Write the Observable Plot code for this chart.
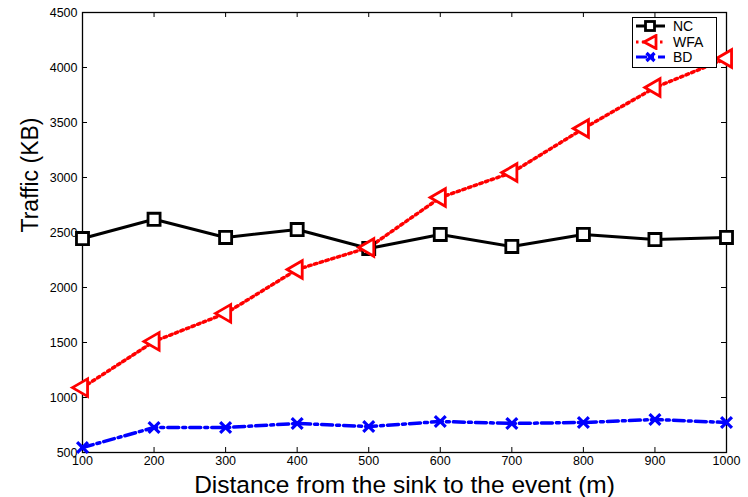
<!DOCTYPE html>
<html><head><meta charset="utf-8">
<script src="https://cdn.jsdelivr.net/npm/d3@7"></script>
<script src="https://cdn.jsdelivr.net/npm/@observablehq/plot@0.6"></script>
<style>
body{margin:0;background:#fff;font-family:"Liberation Sans",Arial,sans-serif;}
#wrap{position:relative;width:748px;height:497px;}
#legend{position:absolute;left:632px;top:17px;width:83px;height:49px;border:1px solid #000;background:#fff;font-size:14px;}
#legend div{height:15.5px;line-height:15.5px;position:relative;}
#legend svg{position:absolute;left:2px;top:0;}
#legend span{position:absolute;left:40px;top:1px;}
</style></head>
<body><div id="wrap"></div>
<script>
const distances = [100,200,300,400,500,600,700,800,900,1000];
const nc  = [2445,2620,2455,2527,2355,2482,2373,2482,2436,2455];
const wfa = [1090,1510,1765,2164,2364,2818,3045,3445,3818,4082];
const bd  = [545,727,727,764,736,782,764,773,800,773];
const xTicks = [100,200,300,400,500,600,700,800,900,1000];
const yTicks = [500,1000,1500,2000,2500,3000,3500,4000,4500];
const seriesNames = ["NC","WFA","BD"];

const rows = (vals) => distances.map((d,i)=>({x:d,y:vals[i]}));
const NC = rows(nc), WFA = rows(wfa), BD = rows(bd);

const W = 748, H = 497, mL = 82, mR = 22, mT = 12, mB = 45;
const fw = W - mL - mR, fh = H - mT - mB, tk = 5;

const chart = Plot.plot({
  width:W, height:H,
  marginLeft:mL, marginRight:mR, marginTop:mT, marginBottom:mB,
  style:{fontFamily:"Liberation Sans, Arial, sans-serif", fontSize:"12.5px", color:"#000", background:"#fff"},
  x:{domain:[100,1000]},
  y:{domain:[500,4500]},
  marks:[
    Plot.frame({stroke:"#000", strokeWidth:1.3}),
    Plot.axisX({ticks:xTicks, tickSize:0, tickPadding:4, label:null, fontSize:12.5, tickFormat:d3.format("d")}),
    Plot.axisY({ticks:yTicks, tickSize:0, tickPadding:5, label:null, fontSize:12.5, tickFormat:d3.format("d")}),
    Plot.tickX(xTicks,{x:d=>d, insetTop:fh-tk, stroke:"#000"}),
    Plot.tickX(xTicks,{x:d=>d, insetBottom:fh-tk, stroke:"#000"}),
    Plot.tickY(yTicks,{y:d=>d, insetRight:fw-tk, stroke:"#000"}),
    Plot.tickY(yTicks,{y:d=>d, insetLeft:fw-tk, stroke:"#000"}),
    Plot.line(NC,{x:"x",y:"y",stroke:"#000",strokeWidth:3}),
    Plot.line(WFA,{x:"x",y:"y",stroke:"#ff0000",strokeWidth:3.5,strokeDasharray:"2.5,3.5"}),
    Plot.line(BD,{x:"x",y:"y",stroke:"#0000ff",strokeWidth:3.5,strokeDasharray:"11,4,3,4"}),
    Plot.dot(NC,{x:"x",y:"y",symbol:"square",r:6.8,stroke:"#000",strokeWidth:2.8,fill:"#fff"}),
    Plot.dot(WFA,{x:"x",y:"y",symbol:"triangle",rotate:-90,r:6.5,stroke:"#ff0000",strokeWidth:2.8,fill:"#fff"}),
    Plot.dot(BD,{x:"x",y:"y",symbol:"times",r:5,stroke:"#0000ff",strokeWidth:3.2}),
    Plot.text(["Distance from the sink to the event (m)"],{frameAnchor:"bottom",lineAnchor:"bottom",dy:40,fontSize:24.5,fill:"#000"}),
    Plot.text(["Traffic (KB)"],{frameAnchor:"left",dx:-52,rotate:-90,fontSize:23,fill:"#000"})
  ]
});
const wrap = document.getElementById("wrap");
wrap.appendChild(chart);

// legend
const leg = document.createElement("div");
leg.id = "legend";
const markers = [
  `<line x1="1" y1="8" x2="30" y2="8" stroke="#000" stroke-width="3"/><rect x="10.5" y="3.5" width="9" height="9" fill="#fff" stroke="#000" stroke-width="2.8"/>`,
  `<line x1="1" y1="8" x2="30" y2="8" stroke="#f00" stroke-width="3" stroke-dasharray="2.5,3.5"/><path d="M9,8 L21,1.5 L21,14.5 Z" fill="#fff" stroke="#f00" stroke-width="2.8"/>`,
  `<line x1="1" y1="8" x2="30" y2="8" stroke="#00f" stroke-width="3" stroke-dasharray="11,4,3,4"/><path d="M11.5,4 L19.5,12 M19.5,4 L11.5,12" stroke="#00f" stroke-width="3.2"/>`
];
seriesNames.forEach((n,i)=>{
  const d = document.createElement("div");
  d.innerHTML = `<svg width="34" height="16">${markers[i]}</svg><span>${n}</span>`;
  leg.appendChild(d);
});
wrap.appendChild(leg);
</script>
</body></html>
